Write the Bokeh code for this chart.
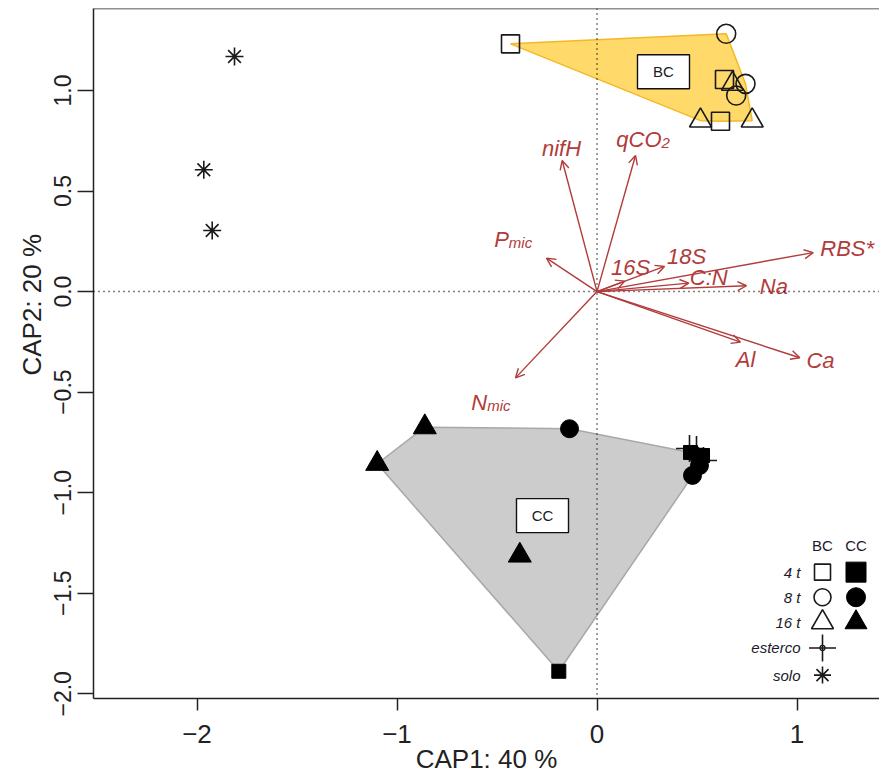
from bokeh.plotting import figure
from bokeh.models import ColumnDataSource, Span, Title, Arrow, OpenHead, FixedTicker, Range1d
from bokeh.core.properties import value
from bokeh.embed import file_html
from bokeh.resources import INLINE

# ---------------- data ----------------
bc_square_x = [-0.4325, 0.6375, 0.6175]
bc_square_y = [1.232, 1.055, 0.847]
bc_circle_x = [0.646, 0.7425, 0.696]
bc_circle_y = [1.282, 1.033, 0.975]
bc_triangle_x = [0.6775, 0.5175, 0.776]
bc_triangle_y = [1.033, 0.85, 0.85]

cc_square_x = [-0.191, 0.4675, 0.5275]
cc_square_y = [-1.888, -0.800, -0.815]
cc_circle_x = [-0.1375, 0.4775, 0.5125]
cc_circle_y = [-0.682, -0.914, -0.865]
cc_triangle_x = [-0.861, -1.099, -0.386]
cc_triangle_y = [-0.674, -0.856, -1.312]

esterco_x = [0.4625, 0.4975, 0.5325]
esterco_y = [-0.780, -0.785, -0.840]
solo_x = [-1.8125, -1.966, -1.924]
solo_y = [1.169, 0.6057, 0.304]

vector_main = ["nifH", "qCO", "P", "16S", "18S", "C:N", "Na", "RBS*", "Al", "Ca", "N"]
vector_sub = ["", "2", "mic", "", "", "", "", "", "", "", "mic"]
vector_x = [-0.174, 0.1925, -0.2525, 0.139, 0.3375, 0.459, 0.7475, 1.081, 0.7175, 1.014, -0.4075]
vector_y = [0.652, 0.677, 0.166, 0.052, 0.125, 0.042, 0.029, 0.194, -0.2515, -0.329, -0.429]

x_ticks = [-2, -1, 0, 1]
x_tick_labels = ["\u22122", "\u22121", "0", "1"]
y_ticks = [-2.0, -1.5, -1.0, -0.5, 0.0, 0.5, 1.0]
y_tick_labels = ["\u22122.0", "\u22121.5", "\u22121.0", "\u22120.5", "0.0", "0.5", "1.0"]

group_names = ["BC", "CC"]
legend_rows = ["4 t", "8 t", "16 t", "esterco", "solo"]
x_title = "CAP1: 40 %"
y_title = "CAP2: 20 %"

# ---------------- layout (positions in data units) ----------------
X0, X1 = -2.5175, 1.4125
Y0, Y1 = -2.0234, 1.4077
vec_lab_x = [-0.1775, 0.3225, -0.441, 0.1675, 0.4475, 0.559, 0.884, 1.251, 0.7425, 1.1175, -0.549]
vec_lab_y = [0.711, 0.755, 0.2608, 0.118, 0.1745, 0.0716, 0.025, 0.213, -0.339, -0.3426, -0.551]
group_lab_x = [0.3325, -0.2725]
group_lab_y = [1.093, -1.114]
leg_text_x = 1.0175
leg_bc_x = 1.1275
leg_cc_x = 1.295
leg_head_y = -1.2626
leg_row_y = [-1.395, -1.52, -1.645, -1.772, -1.907]

FONT = value("Liberation Sans")
VEC_COL = "#B23B3B"
MK_COL = "#1a1a1a"
AX_COL = "#222222"


def hull(xs, ys):
    pts = sorted(set(zip(xs, ys)))
    def cross(o, a, b):
        return (a[0] - o[0]) * (b[1] - o[1]) - (a[1] - o[1]) * (b[0] - o[0])
    lower = []
    for pt in pts:
        while len(lower) >= 2 and cross(lower[-2], lower[-1], pt) <= 0:
            lower.pop()
        lower.append(pt)
    upper = []
    for pt in reversed(pts):
        while len(upper) >= 2 and cross(upper[-2], upper[-1], pt) <= 0:
            upper.pop()
        upper.append(pt)
    h = lower[:-1] + upper[:-1]
    return [q[0] for q in h], [q[1] for q in h]


p = figure(width=879, height=780, output_backend="svg", toolbar_location=None,
           x_range=Range1d(X0, X1), y_range=Range1d(Y0, Y1),
           min_border_left=93, min_border_right=0, min_border_top=8, min_border_bottom=82)
p.outline_line_color = None
p.background_fill_color = "white"
p.border_fill_color = "white"
p.grid.visible = False

# axes
p.xaxis.ticker = FixedTicker(ticks=x_ticks)
p.xaxis.major_label_overrides = {t: l for t, l in zip(x_ticks, x_tick_labels)}
p.yaxis.ticker = FixedTicker(ticks=y_ticks)
p.yaxis.major_label_overrides = {t: l for t, l in zip(y_ticks, y_tick_labels)}
for ax in (p.xaxis[0], p.yaxis[0]):
    ax.axis_line_color = AX_COL
    ax.axis_line_width = 1.5
    ax.major_tick_line_color = AX_COL
    ax.major_tick_line_width = 1.5
    ax.major_tick_in = 0
    ax.minor_tick_line_color = None
    ax.major_label_text_font = "Liberation Sans"
    ax.major_label_text_color = AX_COL
p.xaxis.major_tick_out = 12
p.yaxis.major_tick_out = 16
p.xaxis.major_label_text_font_size = "26px"
p.yaxis.major_label_text_font_size = "23px"
p.xaxis.major_label_standoff = 14
p.yaxis.major_label_standoff = 6
p.yaxis.major_label_orientation = "vertical"
p.xaxis.axis_label = x_title
p.xaxis.axis_label_text_font = "Liberation Sans"
p.xaxis.axis_label_text_font_style = "normal"
p.xaxis.axis_label_text_font_size = "26px"
p.xaxis.axis_label_text_color = AX_COL
p.xaxis.axis_label_standoff = -2

# y title (off-centre as in the original): starts 323px above the frame bottom
p.add_layout(Title(text=y_title, align="left", offset=323, standoff=10,
                   text_font="Liberation Sans", text_font_size="26px", text_font_style="normal",
                   text_color=AX_COL), "left")

# hulls
bx = bc_square_x + bc_circle_x + bc_triangle_x
by = bc_square_y + bc_circle_y + bc_triangle_y
hx, hy = hull(bx, by)
p.patch(hx, hy, fill_color="#FFD96A", fill_alpha=1.0, line_color="#F4B826", line_width=1.5)
cx = cc_square_x + cc_circle_x + cc_triangle_x
cy = cc_square_y + cc_circle_y + cc_triangle_y
hx, hy = hull(cx, cy)
p.patch(hx, hy, fill_color="#CCCCCC", fill_alpha=1.0, line_color="#A8A8A8", line_width=1.5)

# group label boxes
p.rect(group_lab_x, group_lab_y, width=52, height=34, width_units="screen", height_units="screen",
       fill_color="white", line_color="#111111", line_width=1.4)
p.text(group_lab_x, group_lab_y, text=group_names, text_font=FONT, text_font_size="15px",
       text_align="center", text_baseline="middle", text_color="#1a1a2a")

# points
p.scatter(bc_square_x, bc_square_y, marker="square", size=18, fill_color=None, line_color=MK_COL, line_width=1.6)
p.scatter(bc_circle_x, bc_circle_y, marker="circle", size=19, fill_color=None, line_color=MK_COL, line_width=1.6)
p.scatter(bc_triangle_x, bc_triangle_y, marker="triangle", size=22, fill_color=None, line_color=MK_COL, line_width=1.6)
p.scatter(esterco_x, esterco_y, marker="cross", size=27, line_color=MK_COL, line_width=1.6)
p.scatter(esterco_x, esterco_y, marker="circle", size=5, fill_color=None, line_color=MK_COL, line_width=1.2)
p.scatter(cc_square_x, cc_square_y, marker="square", size=14, fill_color="black", line_color="black")
p.scatter(cc_circle_x, cc_circle_y, marker="circle", size=18, fill_color="black", line_color="black")
p.scatter(cc_triangle_x, cc_triangle_y, marker="triangle", size=23, fill_color="black", line_color="black")
p.scatter(solo_x, solo_y, marker="asterisk", size=18, line_color=MK_COL, line_width=1.6)

# dotted zero lines
p.add_layout(Span(location=0, dimension="height", line_color="black", line_width=1.5, line_dash="1 4"))
p.add_layout(Span(location=0, dimension="width", line_color="black", line_width=1.5, line_dash="1 4"))
# top border of the box
p.add_layout(Span(location=Y1, dimension="width", line_color=AX_COL, line_width=1.5))

# vectors
vsrc = ColumnDataSource(dict(x0=[0.0] * len(vector_x), y0=[0.0] * len(vector_y), x1=vector_x, y1=vector_y))
p.add_layout(Arrow(x_start="x0", y_start="y0", x_end="x1", y_end="y1", source=vsrc,
                   line_color=VEC_COL, line_width=1.4,
                   end=OpenHead(size=9, line_color=VEC_COL, line_width=1.4)))

plain_x, plain_y, plain_t = [], [], []
main_x, main_y, main_t, sub_t = [], [], [], []
for m, s, lx, ly in zip(vector_main, vector_sub, vec_lab_x, vec_lab_y):
    if s:
        main_x.append(lx); main_y.append(ly); main_t.append(m); sub_t.append(s)
    else:
        plain_x.append(lx); plain_y.append(ly); plain_t.append(m)
p.text(plain_x, plain_y, text=plain_t, text_font=FONT, text_font_size="22px", text_font_style="italic",
       text_align="center", text_baseline="middle", text_color=VEC_COL)
p.text(main_x, main_y, text=main_t, text_font=FONT, text_font_size="22px", text_font_style="italic",
       text_align="right", text_baseline="alphabetic", text_color=VEC_COL)
p.text(main_x, main_y, text=sub_t, text_font=FONT, text_font_size="15px", text_font_style="italic",
       text_align="left", text_baseline="alphabetic", y_offset=3, text_color=VEC_COL)

# legend
p.text([leg_bc_x, leg_cc_x], [leg_head_y, leg_head_y], text=group_names, text_font=FONT,
       text_font_size="15px", text_align="center", text_baseline="middle", text_color="#1a1a2a")
p.text([leg_text_x] * len(legend_rows), leg_row_y, text=legend_rows, text_font=FONT,
       text_font_size="15px", text_font_style="italic", text_align="right", text_baseline="middle",
       text_color="#1a1a2a")
p.scatter([leg_bc_x], [leg_row_y[0]], marker="square", size=16, fill_color=None, line_color=MK_COL, line_width=1.6)
p.scatter([leg_cc_x], [leg_row_y[0]], marker="square", size=20, fill_color="black", line_color="black")
p.scatter([leg_bc_x], [leg_row_y[1]], marker="circle", size=17, fill_color=None, line_color=MK_COL, line_width=1.6)
p.scatter([leg_cc_x], [leg_row_y[1]], marker="circle", size=19, fill_color="black", line_color="black")
p.scatter([leg_bc_x], [leg_row_y[2]], marker="triangle", size=22, fill_color=None, line_color=MK_COL, line_width=1.6)
p.scatter([leg_cc_x], [leg_row_y[2]], marker="triangle", size=22, fill_color="black", line_color="black")
p.scatter([leg_bc_x], [leg_row_y[3]], marker="cross", size=27, line_color=MK_COL, line_width=1.6)
p.scatter([leg_bc_x], [leg_row_y[3]], marker="circle", size=5, fill_color=None, line_color=MK_COL, line_width=1.2)
p.scatter([leg_bc_x], [leg_row_y[4]], marker="asterisk", size=17, line_color=MK_COL, line_width=1.6)

open("out.html", "w").write(file_html(p, INLINE))
